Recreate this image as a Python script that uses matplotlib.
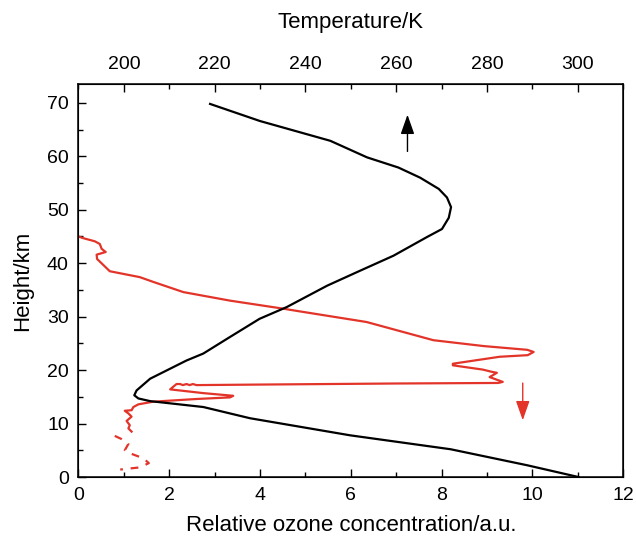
import matplotlib
matplotlib.use("Agg")
import matplotlib.pyplot as plt
from matplotlib.ticker import MultipleLocator

plt.rcParams['font.family'] = ['Liberation Sans', 'DejaVu Sans']
plt.rcParams['font.size'] = 14

# Temperature profile (top axis), height in km
temp_height = [69.8, 66.6, 62.9, 59.8, 57.9, 56.0, 53.9, 52.3, 50.5, 48.5, 46.4, 44.9,
               41.4, 38.5, 35.8, 31.8, 29.6, 26.0, 23.1, 21.8, 18.4, 16.2, 15.3, 14.7,
               14.2, 13.1, 11.0, 7.8, 5.2, 2.2, 0.0]
temp_K = [219.0, 230.0, 245.5, 253.6, 260.5, 265.3, 269.4, 271.2, 272.1, 271.6, 270.1, 266.8,
          259.4, 251.8, 244.8, 235.9, 229.9, 223.0, 217.5, 213.8, 205.8, 202.8, 202.3, 203.2,
          205.8, 217.5, 227.8, 249.9, 272.0, 288.9, 300.2]

# Ozone profile (bottom axis)
ozone_conc = [0.0, 0.1, 0.36, 0.47, 0.51, 0.6, 0.40, 0.41, 0.69, 1.35, 1.65, 2.31, 3.34,
              4.51, 4.87, 6.35, 7.82, 8.93, 9.89, 10.03, 9.9, 9.28, 8.25, 8.25, 8.91, 9.1,
              9.22, 9.06, 9.35, 9.25, 7.0, 4.0, 2.6, 2.52, 2.45, 2.38, 2.3, 2.24, 2.16,
              2.02, 2.75, 3.41, 3.34, 2.6, 1.65, 1.32, 1.21, 1.17, 1.02, 1.10, 1.17, 1.06,
              1.13, 1.10, 1.17]
ozone_height = [45.0, 44.7, 44.1, 43.6, 42.7, 42.1, 41.6, 40.8, 38.5, 37.4, 36.5, 34.6, 33.0,
                31.5, 31.0, 29.0, 25.6, 24.5, 23.8, 23.4, 22.8, 22.5, 21.2, 20.9, 20.1, 19.7,
                19.5, 18.7, 17.8, 17.6, 17.5, 17.3, 17.2, 17.4, 17.2, 17.4, 17.2, 17.4, 17.4,
                16.4, 15.7, 15.2, 14.9, 14.6, 14.1, 13.6, 13.1, 12.5, 12.4, 11.9, 11.3, 10.5,
                9.7, 9.1, 8.5]
# Low-level dashed ozone segment
ozone_dash_conc = [0.8, 0.95, 1.1, 1.02, 1.15, 1.43, 1.55, 1.35, 1.13, 0.92]
ozone_dash_height = [7.7, 7.1, 6.2, 5.0, 4.4, 3.5, 2.6, 1.8, 1.6, 1.4]

# Arrows (x in ozone units, heights in km)
arrow_up = (7.25, 60.4, 68.3)
arrow_down = (9.79, 18.1, 10.1)

red = '#e3342a'

fig = plt.figure(figsize=(6.36, 5.36), dpi=100)
ax = fig.add_axes([0.1234, 0.110, 0.8562, 0.733])
ax.set_xlim(0, 12)
ax.set_ylim(0, 73.5)

ax.plot(ozone_conc, ozone_height, color=red, lw=1.6, solid_joinstyle='round')
ax.plot(ozone_dash_conc, ozone_dash_height, color=red, lw=1.6, dashes=(3.5, 3.5))

ax.annotate('', xy=(arrow_up[0], arrow_up[2]), xytext=(arrow_up[0], arrow_up[1]),
            arrowprops=dict(arrowstyle='-|>,head_length=0.85,head_width=0.3', color='black', lw=1.0))
ax.annotate('', xy=(arrow_down[0], arrow_down[2]), xytext=(arrow_down[0], arrow_down[1]),
            arrowprops=dict(arrowstyle='-|>,head_length=0.85,head_width=0.3', color=red, lw=1.0))

ax.xaxis.set_major_locator(MultipleLocator(2))
ax.xaxis.set_minor_locator(MultipleLocator(1))
ax.yaxis.set_major_locator(MultipleLocator(10))
ax.yaxis.set_minor_locator(MultipleLocator(5))
ax.tick_params(which='both', direction='in', top=False, right=False, width=1.0)
ax.tick_params(which='major', length=6, pad=7)
ax.tick_params(which='minor', length=3.5)
ax.set_xlabel('Relative ozone concentration/a.u.', fontsize=16, labelpad=8)
ax.set_ylabel('Height/km', fontsize=16, labelpad=10)
for s in ax.spines.values():
    s.set_linewidth(1.1)

ax2 = ax.twiny()
ax2.set_xlim(190, 310)
ax2.plot(temp_K, temp_height, color='black', lw=1.6, solid_joinstyle='round')
ax2.xaxis.set_major_locator(MultipleLocator(20))
ax2.xaxis.set_minor_locator(MultipleLocator(10))
ax2.tick_params(which='both', direction='in', width=1.0)
ax2.tick_params(which='major', length=6, pad=8)
ax2.tick_params(which='minor', length=3.5)
ax2.set_xlabel('Temperature/K', fontsize=16, labelpad=20)
ax2.set_ylim(0, 73.5)

fig.savefig('out.png', dpi=100)
